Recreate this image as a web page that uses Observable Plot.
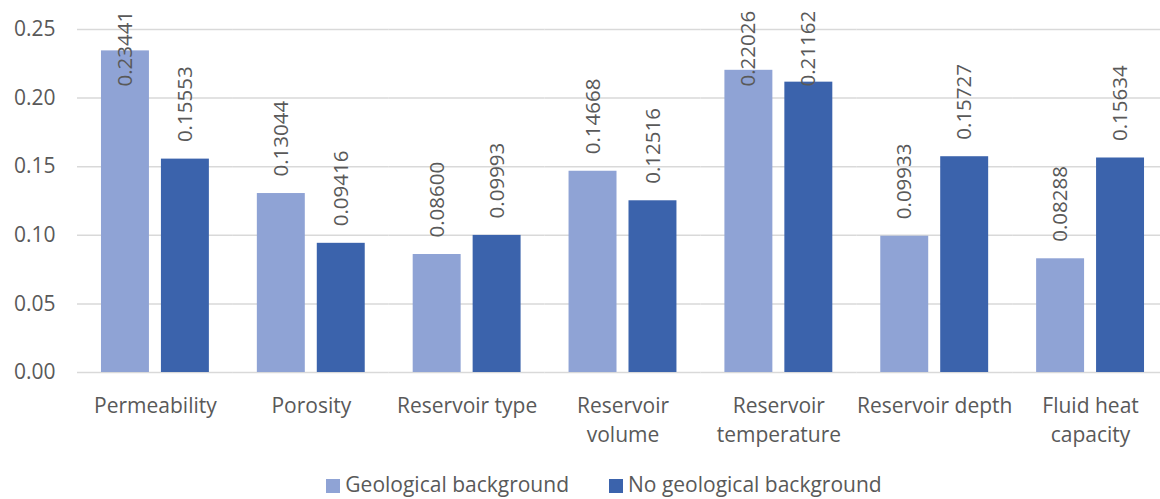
<!DOCTYPE html>
<html>
<head>
<meta charset="utf-8">
<script src="https://cdn.jsdelivr.net/npm/d3@7"></script>
<script src="https://cdn.jsdelivr.net/npm/@observablehq/plot@0.6"></script>
<style>
  html, body { margin: 0; background: #fff; font-family: "Open Sans", sans-serif; overflow: hidden; width: 1160px; }
  #chart { width: 1160px; overflow: hidden; height: 460px; }
  #chart svg { max-width: none !important; }
  #legend { display: flex; justify-content: center; gap: 40px; width: 1160px; height: 39px; align-items: center; color: #595959; font-size: 21px; padding-left: 48px; padding-top: 10px; box-sizing: border-box; line-height: 1.2; }
  #legend span.sw { display: inline-block; width: 14px; height: 14px; margin-right: 5px; vertical-align: -1px; }
</style>
</head>
<body>
<div id="chart"></div>
<div id="legend"></div>
<script>
const categories = ["Permeability", "Porosity", "Reservoir type", "Reservoir volume", "Reservoir temperature", "Reservoir depth", "Fluid heat capacity"];
const categoryLabels = ["Permeability", "Porosity", "Reservoir type", "Reservoir\nvolume", "Reservoir\ntemperature", "Reservoir depth", "Fluid heat\ncapacity"];
const seriesNames = ["Geological background", "No geological background"];
const geological = [0.23441, 0.13044, 0.08600, 0.14668, 0.22026, 0.09933, 0.08288];
const noGeological = [0.15553, 0.09416, 0.09993, 0.12516, 0.21162, 0.15727, 0.15634];
const yTicks = [0, 0.05, 0.10, 0.15, 0.20, 0.25];
const colors = ["#8FA3D5", "#3B63AC"];

const data = [];
categories.forEach((c, i) => {
  data.push({category: c, series: seriesNames[0], value: geological[i]});
  data.push({category: c, series: seriesNames[1], value: noGeological[i]});
});
const labelMap = new Map(categories.map((c, i) => [c, categoryLabels[i]]));

const plot = Plot.plot({
  width: 1168,
  height: 460,
  marginTop: 29,
  marginBottom: 88,
  marginLeft: 77,
  marginRight: 0,
  style: {fontFamily: "'Open Sans', sans-serif", fontSize: "20px", color: "#595959", background: "#fff", overflow: "hidden", maxWidth: "none"},
  fx: {domain: categories, paddingInner: 0, paddingOuter: 0, round: false, label: null},
  x: {domain: seriesNames, paddingInner: 0.2, paddingOuter: 0.4, round: false, axis: null},
  y: {domain: [0, 0.25], label: null},
  color: {domain: seriesNames, range: colors},
  marks: [
    Plot.axisY({ticks: yTicks, tickFormat: d3.format(".2f"), tickSize: 0, tickPadding: 22, fontSize: 21, fill: "#595959", label: null}),
    Plot.axisFx({tickFormat: d => labelMap.get(d), tickSize: 0, tickPadding: 20, fontSize: 21, lineHeight: 1.38, fill: "#595959", label: null, anchor: "bottom"}),
    Plot.ruleY(yTicks, {stroke: "#d9d9d9", strokeWidth: 1.5}),
    Plot.barY(data, {fx: "category", x: "series", y: "value", fill: "series"}),
    Plot.text(data, {
      fx: "category", x: "series", y: "value",
      text: d => d.value.toFixed(5),
      rotate: -90, textAnchor: "start", fill: "#595959", fontSize: 20.5,
      render(index, scales, values, dimensions, context, next) {
        const y = Float64Array.from(values.y, v => Math.max(v - 17, 86));
        return next(index, scales, {...values, y}, dimensions, context);
      }
    })
  ]
});
document.getElementById("chart").appendChild(plot);

const legend = document.getElementById("legend");
seriesNames.forEach((s, i) => {
  const item = document.createElement("div");
  item.innerHTML = `<span class="sw" style="background:${colors[i]}"></span>${s}`;
  legend.appendChild(item);
});
</script>
</body>
</html>
